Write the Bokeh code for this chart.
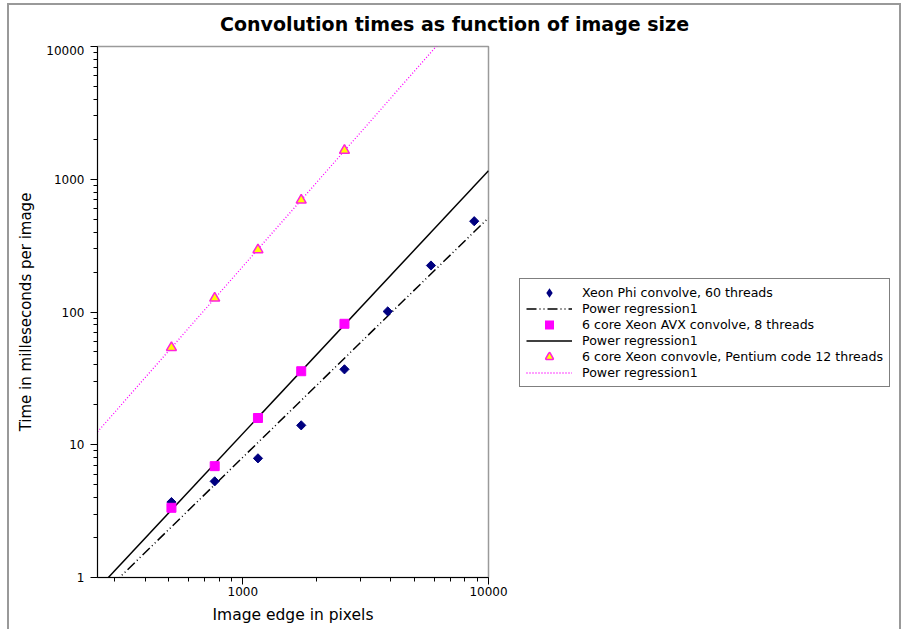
import numpy as np
from bokeh.plotting import figure
from bokeh.layouts import column, row
from bokeh.models import FixedTicker, NumeralTickFormatter, Legend, LegendItem, Range1d
from bokeh.embed import file_html
from bokeh.resources import INLINE

# ---------------- data ----------------
title_text = "Convolution times as function of image size"
x_label = "Image edge in pixels"
y_label = "Time in milleseconds per image"

phi_edge = [512, 768, 1152, 1728, 2592, 3888, 5832, 8748]
phi_ms = [3.7, 5.3, 7.9, 14.0, 37.0, 101, 224, 483]

avx_edge = [512, 768, 1152, 1728, 2592]
avx_ms = [3.35, 6.9, 15.9, 35.8, 81.5]

pent_edge = [512, 768, 1152, 1728, 2592]
pent_ms = [54, 127, 294, 695, 1650]

series_names = [
    "Xeon Phi convolve, 60 threads",
    "6 core Xeon AVX convolve, 8 threads",
    "6 core Xeon convovle, Pentium code 12 threads",
]
fit_name = "Power regression1"

x_lim = (256, 10000)
y_lim = (1, 10000)
x_major = [1000, 10000]
y_major = [1, 10, 100, 1000, 10000]

FONT = "DejaVu Sans"
NAVY = "#000080"
MAGENTA = "#ff00ff"
YELLOW = "#ffff00"

# ---------------- styles ----------------
PHI = dict(marker="square", angle=np.pi / 4, size=6.5, fill_color=NAVY, line_color=NAVY)
AVX = dict(marker="square", size=9, fill_color=MAGENTA, line_color=MAGENTA)
PENT = dict(marker="triangle", size=10, fill_color=YELLOW, line_color="#ff22dd", line_width=1.5)
PHI_FIT = dict(line_color="black", line_width=1.5, line_dash="10 3 1 3 1 3")
AVX_FIT = dict(line_color="black", line_width=1.5)
PENT_FIT = dict(line_color=MAGENTA, line_width=1.3, line_dash="1 2")


def power_fit(xs, ys):
    k, c = np.polyfit(np.log10(xs), np.log10(ys), 1)
    xe = np.array(x_lim, dtype=float)
    return xe, 10 ** (c + k * np.log10(xe))


def minor_ticks(lo, hi, majors):
    out = []
    for m in majors:
        base = m / 10
        out += [k * base for k in range(2, 10) if lo <= k * base <= hi]
    return out


# ---------------- title strip ----------------
t = figure(width=890, height=40, min_border_left=0, min_border_right=0,
           min_border_top=32, min_border_bottom=0,
           x_axis_location=None, y_axis_location=None,
           x_range=Range1d(0, 1), y_range=Range1d(0, 1),
           output_backend="svg", toolbar_location=None,
           outline_line_color=None, background_fill_color="white", border_fill_color="white")
t.grid.visible = False
t.title.text = title_text
t.title.align = "center"
t.title.text_font = FONT
t.title.text_font_size = "19px"
t.title.text_font_style = "bold"
t.title.text_color = "black"

# ---------------- main plot ----------------
p = figure(
    width=499, height=584,
    x_axis_type="log", y_axis_type="log",
    x_range=x_lim, y_range=y_lim,
    output_backend="svg", toolbar_location=None,
    min_border_left=88, min_border_right=20,
    min_border_top=1, min_border_bottom=52,
    background_fill_color="white", border_fill_color="white",
    outline_line_color="#9a9a9a", outline_line_width=1.5,
)
p.xgrid.visible = False
p.ygrid.visible = False

p.xaxis[0].ticker = FixedTicker(ticks=x_major, minor_ticks=minor_ticks(*x_lim, [1000, 10000]))
p.yaxis[0].ticker = FixedTicker(ticks=y_major, minor_ticks=minor_ticks(*y_lim, y_major[1:]))

for ax in (p.xaxis[0], p.yaxis[0]):
    ax.formatter = NumeralTickFormatter(format="0")
    ax.major_tick_out = 7
    ax.major_tick_in = 0
    ax.minor_tick_out = 4
    ax.minor_tick_in = 0
    ax.axis_line_color = "black"
    ax.major_tick_line_color = "black"
    ax.minor_tick_line_color = "black"
    ax.major_label_text_font = FONT
    ax.major_label_text_font_size = "12px"
    ax.major_label_text_color = "black"
    ax.axis_label_text_font = FONT
    ax.axis_label_text_font_style = "normal"
    ax.axis_label_text_color = "black"

p.xaxis.axis_label = x_label
p.yaxis.axis_label = y_label
p.xaxis.axis_label_text_font_size = "15.5px"
p.yaxis.axis_label_text_font_size = "15px"
p.yaxis.major_label_standoff = 6
p.yaxis.axis_label_standoff = 8
p.xaxis.major_label_standoff = 2
p.xaxis.axis_label_standoff = 7

xe, ye = power_fit(phi_edge, phi_ms)
p.line(xe, ye, **PHI_FIT)
xe, ye = power_fit(avx_edge, avx_ms)
p.line(xe, ye, **AVX_FIT)
xe, ye = power_fit(pent_edge, pent_ms)
p.line(xe, ye, **PENT_FIT)

p.scatter(phi_edge, phi_ms, **PHI)
p.scatter(avx_edge, avx_ms, **AVX)
p.scatter(pent_edge, pent_ms, **PENT)

# ---------------- legend panel ----------------
# legend-only figure: its renderers carry the same data, but its ranges show none of it.
# Bokeh draws legend markers small and unrotated, so thicker outlines bring them to size.
q = figure(width=391, height=584, min_border_left=0, min_border_right=0,
           min_border_top=0, min_border_bottom=0,
           x_axis_location=None, y_axis_location=None,
           x_range=Range1d(0, 1), y_range=Range1d(0, 1),
           output_backend="svg", toolbar_location=None,
           outline_line_color=None, background_fill_color="white", border_fill_color="white")
q.grid.visible = False

l_phi = q.scatter(phi_edge, phi_ms, marker="diamond", size=6, fill_color=NAVY,
                  line_color=NAVY, line_width=2, line_join="miter")
xe, ye = power_fit(phi_edge, phi_ms)
l_phi_fit = q.line(xe, ye, **PHI_FIT)
l_avx = q.scatter(avx_edge, avx_ms, marker="square", size=6, fill_color=MAGENTA,
                  line_color=MAGENTA, line_width=3, line_join="miter")
xe, ye = power_fit(avx_edge, avx_ms)
l_avx_fit = q.line(xe, ye, **AVX_FIT)
l_pent_rim = q.scatter(pent_edge, pent_ms, marker="triangle", size=6, fill_color=YELLOW,
                       line_color="#ff22dd", line_width=3.2, line_join="round")
l_pent = q.scatter(pent_edge, pent_ms, marker="triangle", size=6, fill_color=YELLOW,
                   line_color=None)
xe, ye = power_fit(pent_edge, pent_ms)
l_pent_fit = q.line(xe, ye, **PENT_FIT)

legend = Legend(
    items=[
        LegendItem(label=series_names[0], renderers=[l_phi]),
        LegendItem(label=fit_name, renderers=[l_phi_fit]),
        LegendItem(label=series_names[1], renderers=[l_avx]),
        LegendItem(label=fit_name, renderers=[l_avx_fit]),
        LegendItem(label=series_names[2], renderers=[l_pent_rim, l_pent]),
        LegendItem(label=fit_name, renderers=[l_pent_fit]),
    ],
    location=(11, 190),
    label_text_font=FONT,
    label_text_font_size="12.6px",
    label_text_color="black",
    glyph_width=46, glyph_height=15, label_height=15,
    spacing=1, padding=6, margin=0, label_standoff=10,
    border_line_color="black", border_line_width=1,
    background_fill_color="white", background_fill_alpha=1,
)
q.add_layout(legend, "center")

layout = column(
    t, row(p, q, spacing=0), spacing=0,
    margin=(3, 0, 0, 7),
    styles={"border-top": "2px solid #999999", "border-left": "2px solid #999999",
            "border-right": "2px solid #999999"},
)

open("out.html", "w").write(file_html(layout, INLINE))
